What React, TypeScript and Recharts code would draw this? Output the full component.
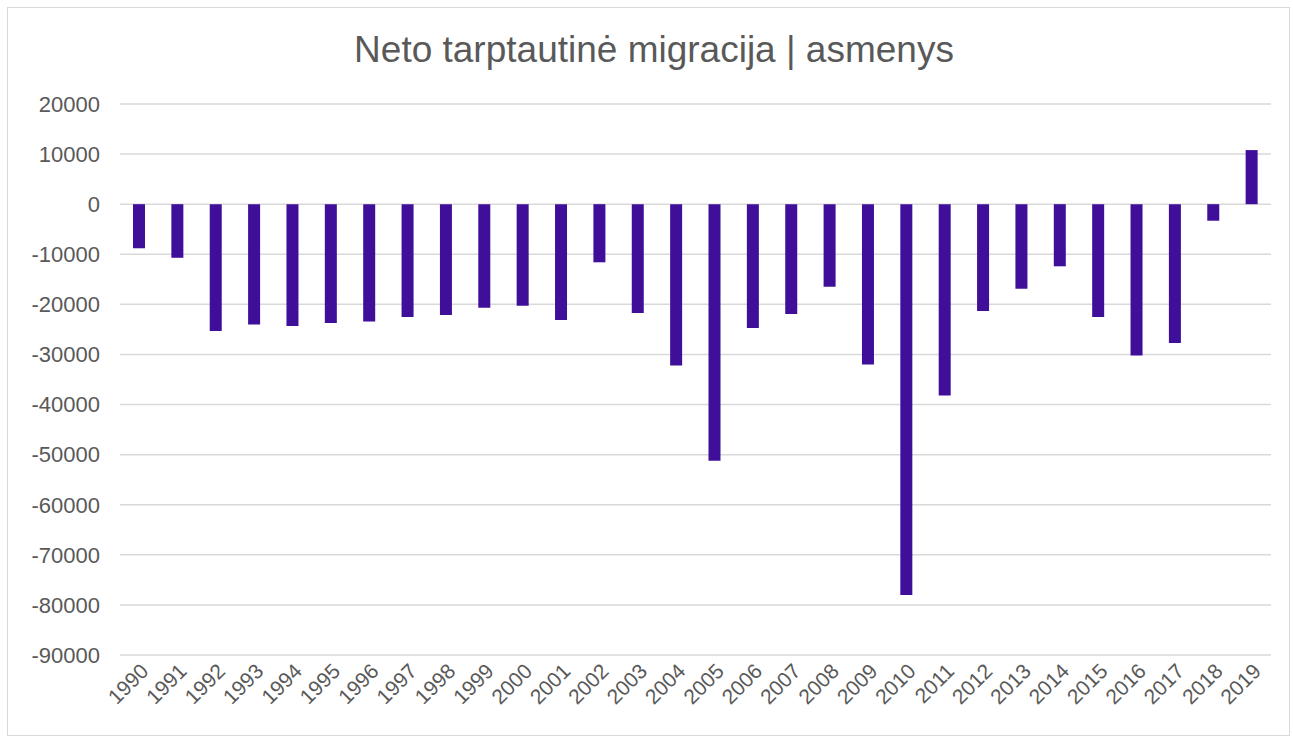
import { BarChart, Bar, XAxis, YAxis, CartesianGrid } from 'recharts';

const years = [
   '1990', '1991', '1992', '1993', '1994', '1995', '1996', '1997', '1998', '1999',
   '2000', '2001', '2002', '2003', '2004', '2005', '2006', '2007', '2008', '2009',
   '2010', '2011', '2012', '2013', '2014', '2015', '2016', '2017', '2018', '2019'
];

const netMigration = [
   -8800, -10700, -25300, -24000, -24300, -23700, -23400, -22500, -22100, -20700,
   -20300, -23100, -11600, -21700, -32200, -51200, -24700, -21900, -16500, -32000,
   -78000, -38200, -21300, -16900, -12400, -22500, -30200, -27700, -3300, 10800
];

const yTicks = [20000, 10000, 0, -10000, -20000, -30000, -40000, -50000, -60000, -70000, -80000, -90000];

const data = years.map((year, i) => ({ year, value: netMigration[i] }));

const font = '"Liberation Sans", Arial, sans-serif';
const textColor = '#595959';

const App = () => (
   <div style={{ position: 'absolute', left: 0, top: 0, width: 1293, height: 740, background: '#fff', fontFamily: font }}>
      <div
         style={{
            position: 'absolute',
            left: 7,
            top: 7,
            width: 1281,
            height: 727,
            border: '1px solid #d9d9d9'
         }}
      />
      <div
         style={{
            position: 'absolute',
            left: 0,
            top: 29,
            width: 1308,
            textAlign: 'center',
            fontSize: 37,
            lineHeight: '42px',
            color: textColor
         }}>
         Neto tarptautinė migracija | asmenys
      </div>
      <div style={{ position: 'absolute', left: 0, top: 0 }}>
         <BarChart
            width={1293}
            height={740}
            data={data}
            margin={{ top: 104, right: 22, bottom: 0, left: 0 }}>
            <CartesianGrid vertical={false} stroke="#d9d9d9" strokeWidth={1.5} />
            <XAxis
               dataKey="year"
               height={85}
               axisLine={false}
               tickLine={false}
               interval={0}
               angle={-45}
               textAnchor="end"
               tickSize={0}
               tickMargin={7}
               tick={{ fill: textColor, fontSize: 21, fontFamily: font }}
            />
            <YAxis
               width={120}
               domain={[-90000, 20000]}
               ticks={yTicks}
               interval={0}
               axisLine={false}
               tickLine={false}
               tickSize={0}
               tickMargin={20}
               tick={{ fill: textColor, fontSize: 22, fontFamily: font }}
            />
            <Bar dataKey="value" fill="#3f0f9a" barSize={12} isAnimationActive={false} />
         </BarChart>
      </div>
   </div>
);

export default App;
